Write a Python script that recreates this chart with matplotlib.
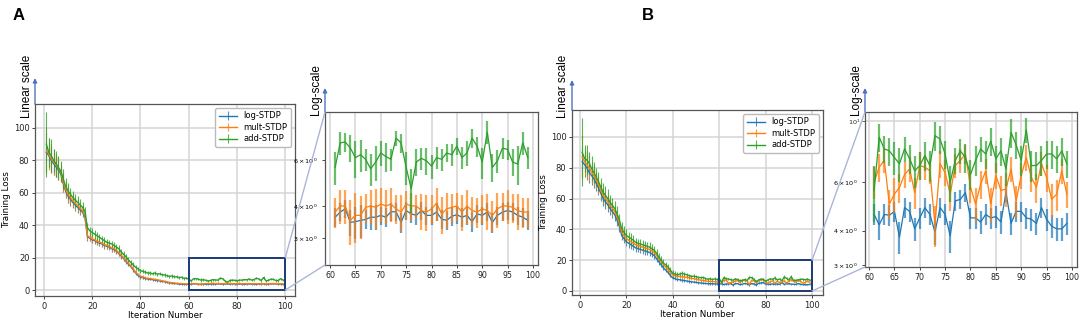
import matplotlib.pyplot as plt
from matplotlib.patches import Rectangle, ConnectionPatch
from matplotlib.colors import to_rgba

# iterations 1..99
iterations = list(range(1, 100))

# ---- panel A data ----
log_a = [85, 83, 80, 78, 76, 74, 71.5, 65.5, 61, 58,
         56, 54, 52.5, 51, 49.5, 48, 45, 33, 32, 31,
         30.5, 29.5, 29, 28.5, 27.5, 27, 26.5, 25.5, 25, 24,
         22.5, 21, 19.5, 17.5, 16, 14.5, 12.5, 10.5, 9, 8,
         7.6, 7.1, 6.8, 6.6, 6.4, 6.1, 5.9, 5.6, 5.3, 5.1,
         4.7, 4.4, 4.2, 4.0, 3.9, 3.7, 3.6, 3.5, 3.5, 3.5,
         3.62, 3.79, 3.9, 3.46, 3.48, 3.52, 3.55, 3.62, 3.62, 3.68,
         3.62, 3.8, 3.8, 3.46, 3.84, 3.73, 3.68, 3.84, 3.68, 3.68,
         3.79, 3.56, 3.52, 3.65, 3.7, 3.62, 3.68, 3.48, 3.73, 3.68,
         3.79, 3.46, 3.68, 3.79, 3.84, 3.79, 3.68, 3.62, 3.52]
mult_a = [86, 84, 81, 79, 77, 75, 72.5, 66.5, 62, 59,
          57, 55, 53.5, 52, 50.5, 49, 46, 33.5, 32.5, 31.5,
          31, 30, 29.5, 29, 28, 27.5, 27, 26, 25.5, 24.5,
          23, 21.5, 20, 18, 16.5, 15, 13, 11, 9.5, 8.5,
          8, 7.5, 7.2, 7, 6.8, 6.5, 6.3, 6.0, 5.6, 5.4,
          5.0, 4.7, 4.5, 4.3, 4.2, 4.0, 3.9, 3.8, 3.7, 3.8,
          3.79, 4.0, 4.0, 3.52, 3.68, 3.68, 3.95, 4.0, 3.95, 4.07,
          4.0, 4.07, 3.9, 3.79, 4.07, 4.0, 4.0, 3.84, 3.79, 3.9,
          4.1, 3.73, 3.9, 3.95, 4.0, 3.79, 4.0, 3.84, 3.79, 3.9,
          3.84, 3.68, 3.9, 4.0, 4.0, 3.95, 3.84, 3.79, 3.79]
add_a = [90, 85, 83, 80, 78, 75.5, 73.5, 68.5, 64, 61,
         59, 57, 55.5, 54, 52.5, 51, 48.5, 38.5, 36.5, 35.5,
         34.5, 33.5, 32.5, 31.5, 30.5, 29.5, 29, 28.5, 27.5, 26.5,
         25.5, 23.5, 22, 20.5, 18.5, 17, 15.5, 14, 13, 12,
         11.5, 11, 10.5, 10.5, 10, 10.5, 9.8, 10, 9.4, 9.3,
         8.8, 8.4, 8.7, 8.1, 8.2, 7.6, 7.9, 7.2, 7.4, 6.6,
         5.63, 7.0, 7.05, 6.68, 6.14, 6.3, 6.05, 5.56, 5.9, 6.4,
         6.2, 6.05, 7.3, 7.0, 5.63, 4.66, 5.9, 6.1, 5.97, 5.7,
         6.14, 6.05, 6.4, 6.3, 6.8, 6.14, 6.4, 7.3, 6.8, 5.9,
         7.7, 5.63, 5.97, 6.68, 6.6, 5.9, 5.8, 7.0, 6.14]
log_a_err = [12, 8, 8, 7, 6, 6, 5, 5, 4, 4,
             4, 3.5, 3.5, 3.5, 3, 3, 3, 2.5, 2, 2,
             2, 2, 2, 2, 2, 2, 2, 1.8, 1.8, 1.8,
             1.6, 1.6, 1.5, 1.4, 1.3, 1.2, 1.1, 1, 0.9, 0.9,
             0.8, 0.8, 0.8, 0.7, 0.7, 0.7, 0.7, 0.6, 0.6, 0.6,
             0.5, 0.5, 0.5, 0.5, 0.5, 0.4, 0.4, 0.4, 0.4, 0.4,
             0.3, 0.3, 0.3, 0.4, 0.5, 0.5, 0.3, 0.4, 0.4, 0.3,
             0.3, 0.3, 0.3, 0.3, 0.3, 0.3, 0.3, 0.3, 0.3, 0.3,
             0.3, 0.3, 0.3, 0.3, 0.3, 0.3, 0.3, 0.3, 0.3, 0.3,
             0.3, 0.3, 0.3, 0.3, 0.3, 0.3, 0.3, 0.3, 0.3]
mult_a_err = [14, 10, 9, 8, 7, 7, 6, 6, 5, 5,
              4, 4, 4, 4, 3.5, 3.5, 3, 2.5, 2.5, 2.5,
              2, 2, 2, 2, 2, 2, 2, 2, 2, 2,
              2, 1.8, 1.8, 1.6, 1.5, 1.4, 1.3, 1.2, 1.1, 1,
              1, 1, 0.9, 0.9, 0.9, 0.8, 0.8, 0.8, 0.8, 0.7,
              0.7, 0.7, 0.7, 0.6, 0.6, 0.6, 0.6, 0.6, 0.6, 0.6,
              0.5, 0.6, 0.6, 0.7, 0.8, 0.7, 0.5, 0.6, 0.7, 0.6,
              0.6, 0.6, 0.5, 0.6, 0.5, 0.5, 0.4, 0.6, 0.6, 0.5,
              0.6, 0.6, 0.6, 0.5, 0.5, 0.6, 0.6, 0.5, 0.5, 0.5,
              0.6, 0.5, 0.6, 0.5, 0.6, 0.5, 0.6, 0.5, 0.5]
add_a_err = [20, 9, 10, 7, 8, 7, 6, 6, 5, 5,
             4, 4, 4, 4, 3.5, 3.5, 3, 3, 2.5, 2.5,
             2.5, 2.5, 2, 2, 2, 2, 2, 2, 2, 2,
             2, 2, 2, 2, 1.8, 1.6, 1.5, 1.4, 1.3, 1.2,
             1.2, 1.1, 1.1, 1, 1, 1, 1, 1, 1, 1,
             1, 1, 1, 0.9, 0.9, 0.9, 0.9, 0.9, 0.9, 0.9,
             0.8, 0.7, 0.6, 0.8, 1.0, 0.9, 0.6, 0.8, 0.9, 0.7,
             0.8, 0.6, 0.5, 0.6, 0.8, 0.9, 0.7, 0.6, 0.7, 0.6,
             0.6, 0.6, 0.5, 0.6, 0.5, 0.6, 0.7, 0.6, 0.6, 0.8,
             0.8, 0.7, 0.6, 0.6, 0.6, 0.7, 1.0, 0.7, 0.6]

# ---- panel B data ----
log_b = [84, 82, 80, 77, 75, 73, 70, 67, 63.5, 60,
         58, 56, 53.5, 51.5, 49.5, 46, 42, 36, 34, 32,
         31, 30, 29, 28, 27.5, 27, 26.5, 26, 25.5, 25,
         24, 23, 21, 19, 17, 15, 13.5, 12, 10, 8.5,
         8, 7.5, 7.3, 7, 6.8, 6.5, 6.2, 6, 5.8, 5.6,
         5.4, 5.2, 5.0, 4.9, 4.8, 4.7, 4.7, 4.6, 4.6, 4.6,
         4.58, 4.2, 4.58, 4.55, 4.7, 3.79, 4.85, 4.7, 4.06, 4.45,
         4.85, 4.58, 3.95, 4.85, 4.58, 3.83, 5.13, 5.2, 5.5, 4.45,
         4.45, 4.3, 4.58, 4.45, 4.5, 4.3, 5.5, 4.25, 4.7, 4.7,
         4.45, 4.4, 4.25, 4.85, 4.4, 4.15, 4.06, 4.06, 4.25]
mult_b = [87, 84, 82, 80, 77, 75, 72, 69, 65.5, 62,
          60, 58, 55.5, 53.5, 51.5, 48, 44, 38, 36, 34,
          33, 32, 31, 30, 29.5, 29, 28.5, 28, 27.5, 27,
          26, 25, 23, 21, 19, 17, 15.5, 14, 12, 10.5,
          10, 9.5, 9.5, 9.2, 9, 8.8, 8.5, 8.2, 8, 7.6,
          7.4, 7, 6.8, 6.6, 6.3, 6.1, 6.2, 6, 5.9, 6.0,
          6.0, 6.8, 7.2, 5.0, 5.43, 5.75, 6.4, 6.7, 5.5, 6.9,
          6.8, 6.6, 4.2, 7.0, 6.5, 5.43, 6.9, 7.2, 7.6, 5.75,
          5.0, 5.9, 6.6, 5.0, 6.35, 5.6, 5.67, 6.7, 5.13, 6.35,
          7.38, 6.25, 5.75, 7.0, 6.25, 5.2, 5.43, 6.6, 5.43]
add_b = [90, 86, 85, 83, 79.5, 77, 74, 71, 67.5, 64,
         62, 60, 57.5, 55.5, 53.5, 50, 46, 40.5, 38, 36,
         35, 34, 33, 31.5, 31, 30.5, 30, 29.5, 29, 28.5,
         27.5, 26.5, 24.5, 22, 20, 18, 17, 15.5, 13.5, 11.5,
         11, 10.5, 11, 11.5, 11, 10.5, 10, 9.5, 9.6, 9.3,
         8.9, 8.6, 8.8, 8.2, 7.6, 7.9, 7.5, 7.8, 7.4, 8.0,
         5.6, 8.75, 7.93, 7.8, 7.38, 7.0, 7.93, 7.3, 6.6, 6.9,
         7.5, 6.9, 8.87, 8.6, 7.6, 6.0, 7.2, 7.8, 7.38, 6.4,
         7.2, 7.93, 7.6, 8.45, 7.3, 7.8, 6.7, 9.1, 8.2, 7.2,
         9.3, 6.9, 6.9, 7.2, 7.6, 7.6, 7.3, 7.8, 7.0]
log_b_err = [10, 8, 8, 7, 6, 6, 5, 5, 5, 5,
             4.5, 4.5, 4, 4, 4, 3.5, 3.5, 3, 3, 3,
             3, 2.5, 2.5, 2.5, 2.5, 2.5, 2.5, 2.5, 2, 2,
             2, 2, 2, 1.8, 1.6, 1.5, 1.4, 1.2, 1.1, 1,
             1, 0.9, 0.9, 0.9, 0.8, 0.8, 0.8, 0.7, 0.7, 0.7,
             0.6, 0.6, 0.6, 0.6, 0.6, 0.5, 0.5, 0.5, 0.5, 0.5,
             0.4, 0.5, 0.4, 0.4, 0.4, 0.5, 0.4, 0.4, 0.4, 0.4,
             0.4, 0.4, 0.4, 0.4, 0.4, 0.5, 0.4, 0.4, 0.4, 0.4,
             0.4, 0.4, 0.4, 0.4, 0.4, 0.4, 0.4, 0.4, 0.4, 0.4,
             0.4, 0.4, 0.4, 0.4, 0.4, 0.4, 0.4, 0.4, 0.4]
mult_b_err = [14, 9, 9, 8, 7, 7, 6, 6, 5, 5,
              5, 5, 4.5, 4.5, 4, 4, 4, 3.5, 3.5, 3.5,
              3, 3, 3, 3, 3, 3, 3, 3, 2.5, 2.5,
              2.5, 2.5, 2.5, 2, 2, 2, 2, 1.8, 1.6, 1.5,
              1.4, 1.3, 1.3, 1.2, 1.2, 1.1, 1.1, 1, 1, 1,
              1, 0.9, 0.9, 0.9, 0.9, 0.8, 0.8, 0.8, 0.8, 0.8,
              0.8, 0.8, 0.7, 0.6, 0.8, 0.7, 0.7, 0.7, 0.7, 0.8,
              0.7, 0.7, 0.7, 0.8, 0.7, 0.7, 0.7, 0.7, 0.6, 0.7,
              0.7, 0.7, 0.7, 0.7, 0.7, 0.7, 0.8, 0.7, 0.7, 0.7,
              0.8, 0.7, 0.7, 0.7, 0.7, 0.7, 0.7, 0.7, 0.6]
add_b_err = [22, 9, 10, 7, 8, 7, 6, 6, 6, 6,
             6, 6, 5, 5, 5, 5, 4, 4, 4, 4,
             3.5, 3.5, 3.5, 3, 3, 3, 3, 3, 3, 3,
             3, 3, 3, 2.5, 2.5, 2.5, 2, 2, 2, 2,
             1.8, 1.6, 1.5, 1.5, 1.4, 1.3, 1.3, 1.2, 1.2, 1.2,
             1.1, 1.1, 1.1, 1, 1, 1, 1, 1, 1, 1,
             1.3, 1.0, 0.9, 0.9, 1.0, 1.0, 0.8, 0.9, 0.9, 0.8,
             0.9, 0.9, 1.1, 1.0, 0.9, 0.9, 0.8, 0.8, 0.9, 0.8,
             0.9, 0.8, 0.9, 1.0, 0.8, 0.9, 0.9, 1.1, 0.9, 0.9,
             1.0, 0.9, 0.8, 0.9, 0.9, 0.9, 0.8, 0.9, 0.8]

labels = ["log-STDP", "mult-STDP", "add-STDP"]
colors = ["#1f77b4", "#ff7f0e", "#2ca02c"]
zoom_start = 60  # index of iteration 61

W, H = 1084, 321
fig = plt.figure(figsize=(W / 100, H / 100), dpi=100)


def px_axes(x0, y0, x1, y1):
    return fig.add_axes([x0 / W, 1 - y1 / H, (x1 - x0) / W, (y1 - y0) / H])


def style_axes(ax, fs):
    ax.grid(True, color="#d4d4d4", lw=1.1)
    ax.set_axisbelow(True)
    for s in ax.spines.values():
        s.set_color("#555555")
        s.set_linewidth(0.9)
    ax.tick_params(labelsize=fs, length=2.5, width=0.6, pad=1.5, colors="#222222")


def axis_arrow(ax, dy):
    ax.annotate("", xy=(0, 1 + dy), xytext=(0, 1), xycoords="axes fraction",
                arrowprops=dict(arrowstyle="-|>", color="#4f74bf", lw=1.0,
                                mutation_scale=6, shrinkA=0, shrinkB=0),
                annotation_clip=False)


def draw_panel(main_box, inset_box, series, errs, main_lim, inset_lim, inset_ticks,
               letter, letter_x, lin_x, log_x, lin_dy, log_dy):
    ax = px_axes(*main_box)
    for y, e, c, lab in zip(series, errs, colors, labels):
        ax.errorbar(iterations, y, yerr=e, color=c, ecolor=to_rgba(c, 0.8),
                    lw=1.0, elinewidth=0.8, label=lab)
    ax.set_xlim(main_lim[0])
    ax.set_ylim(main_lim[1])
    ax.set_xticks([0, 20, 40, 60, 80, 100])
    ax.set_yticks([0, 20, 40, 60, 80, 100])
    ax.set_xlabel("Iteration Number", fontsize=6.3, labelpad=0.5)
    ax.set_ylabel("Training Loss", fontsize=6.3, labelpad=2)
    style_axes(ax, 6)
    ax.legend(loc="upper right", fontsize=6, handlelength=2.2, borderpad=0.4,
              labelspacing=0.3, framealpha=1, edgecolor="#bbbbbb")
    ax.add_patch(Rectangle((60, 0), 40, 20, fill=False, edgecolor="#1b3a78", lw=1.4, zorder=5))
    axis_arrow(ax, lin_dy)

    ins = px_axes(*inset_box)
    for y, e, c in zip(series, errs, colors):
        ins.errorbar(iterations[zoom_start:], y[zoom_start:], yerr=e[zoom_start:], fmt="none",
                     ecolor=to_rgba(c, 0.7), elinewidth=1.6)
        ins.plot(iterations[zoom_start:], y[zoom_start:], color=c, lw=0.9)
    ins.set_yscale("log")
    ins.set_xlim(inset_lim[0])
    ins.set_ylim(inset_lim[1])
    ins.set_xticks([60, 65, 70, 75, 80, 85, 90, 95, 100])
    ins.yaxis.set_minor_formatter(plt.NullFormatter())
    ins.set_yticks(inset_ticks[0], inset_ticks[1], minor=True)
    style_axes(ins, 5.7)
    ins.tick_params(axis="y", which="both", labelsize=4.6, length=2, width=0.5)
    ins.yaxis.set_major_formatter(plt.FuncFormatter(lambda v, p: "$\\mathregular{10^{1}}$" if v == 10 else ""))
    axis_arrow(ins, log_dy)

    for ya, yb in [(20, 1), (0, 0)]:
        con = ConnectionPatch(xyA=(100, ya), coordsA=ax.transData, xyB=(0, yb),
                              coordsB=ins.transAxes, color="#a9b6d6", lw=1.0)
        fig.add_artist(con)

    fig.text(letter_x / W, 1 - 15 / H, letter, fontsize=12, fontweight="bold",
             family="Liberation Sans", ha="left", va="center")
    fig.text(lin_x / W, 1 - 86 / H, "Linear scale", rotation=90, fontsize=8.5,
             family="Liberation Sans", ha="center", va="center")
    fig.text(log_x / W, 1 - 90 / H, "Log-scale", rotation=90, fontsize=8.5,
             family="Liberation Sans", ha="center", va="center")


sci = ["$3\\times10^{0}$", "$4\\times10^{0}$", "$6\\times10^{0}$"]

draw_panel((35, 104, 295, 296), (325, 112, 538, 265),
           [log_a, mult_a, add_a], [log_a_err, mult_a_err, add_a_err],
           ((-3.7, 104), (-3.7, 114.8)), ((59, 101), (2.37, 9.2)),
           ([3, 4, 6], sci), "A", 13, 27, 316, 0.135, 0.157)
draw_panel((572, 110, 823, 295), (865, 112, 1077, 267),
           [log_b, mult_b, add_b], [log_b_err, mult_b_err, add_b_err],
           ((-3.4, 104.7), (-2.6, 117.5)), ((59.2, 101), (2.95, 10.8)),
           ([3, 4, 6], sci), "B", 642, 563, 856, 0.162, 0.155)

fig.savefig("out.png", dpi=100)
